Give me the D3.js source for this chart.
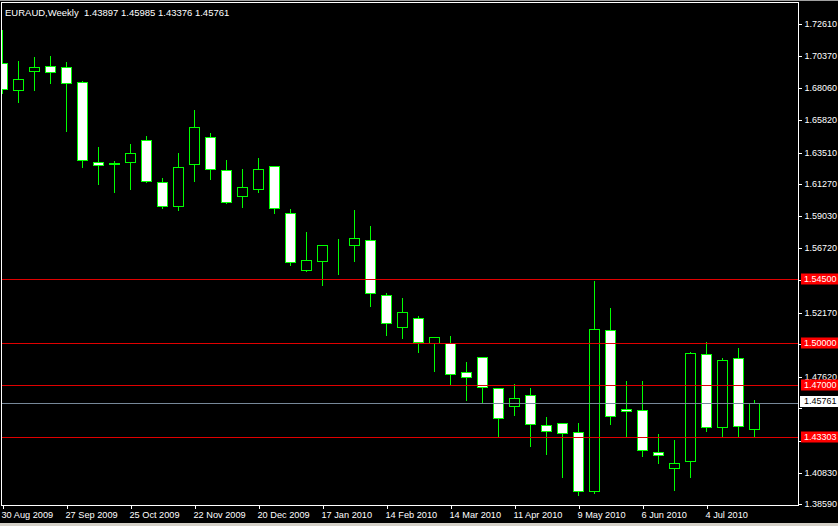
<!DOCTYPE html>
<html><head><meta charset="utf-8">
<script src="https://cdn.jsdelivr.net/npm/d3@7"></script>
<style>
html,body{margin:0;padding:0;background:#000;}
svg{display:block;}
text{font-family:"Liberation Sans",Arial,sans-serif;}
</style></head>
<body>
<svg id="chart" width="838" height="526"></svg>
<script>
// ---- data (weekly EURAUD candles, 30 Aug 2009 .. 25 Jul 2010) ----
const open  = [1.6981,1.6789,1.6924,1.6960,1.6952,1.6846,1.6279,1.6268,1.6279,1.6435,1.6137,1.5967,1.6269,1.6456,1.6222,1.6042,1.6092,1.6251,1.5918,1.5518,1.5578,1.5676,1.5691,1.5726,1.5337,1.5114,1.5174,1.4996,1.4996,1.4791,1.4897,1.4678,1.4550,1.4628,1.4415,1.4430,1.4366,1.3948,1.5089,1.4529,1.4522,1.4224,1.4111,1.4160,1.4918,1.4401,1.4890,1.43897];
const high  = [1.7222,1.7004,1.7033,1.7040,1.6997,1.6860,1.6395,1.6295,1.6416,1.6473,1.6175,1.6352,1.6657,1.6494,1.6303,1.6239,1.6317,1.6260,1.5955,1.5792,1.5700,1.5741,1.5948,1.5835,1.5358,1.5325,1.5195,1.5039,1.5055,1.4871,1.4906,1.4685,1.4715,1.4687,1.4481,1.4439,1.4439,1.5445,1.5254,1.4736,1.4736,1.4361,1.4318,1.4942,1.5013,1.4897,1.4970,1.45985];
const low   = [1.6772,1.6709,1.6794,1.6843,1.6503,1.6248,1.6128,1.6071,1.6092,1.6142,1.5957,1.5943,1.6149,1.6163,1.5993,1.5965,1.6069,1.5922,1.5551,1.5510,1.5412,1.5490,1.5582,1.5263,1.5057,1.5036,1.4937,1.4802,1.4710,1.4595,1.4575,1.4342,1.4490,1.4269,1.4214,1.4051,1.3923,1.3938,1.4427,1.4342,1.4200,1.4150,1.3959,1.4051,1.4377,1.4335,1.4335,1.43376];
const close = [1.6797,1.6867,1.6952,1.6917,1.6839,1.6293,1.6258,1.6272,1.6343,1.6145,1.5967,1.6244,1.6527,1.6234,1.6000,1.6102,1.6230,1.5952,1.5570,1.5585,1.5691,1.5677,1.5741,1.5351,1.5138,1.5216,1.5004,1.5039,1.4777,1.4755,1.4685,1.4465,1.4607,1.4422,1.4377,1.4359,1.3948,1.5096,1.4479,1.4515,1.4238,1.4203,1.4146,1.4926,1.4401,1.4878,1.4408,1.45761];
const dateTicks = [0,4,8,12,16,20,24,28,32,36,40,44];
const dateLabels = ["30 Aug 2009","27 Sep 2009","25 Oct 2009","22 Nov 2009","20 Dec 2009","17 Jan 2010","14 Feb 2010","14 Mar 2010","11 Apr 2010","9 May 2010","6 Jun 2010","4 Jul 2010"];
const priceTicks = [1.72610,1.70370,1.68060,1.65820,1.63510,1.61270,1.59030,1.56720,1.54480,1.52170,1.49930,1.47620,1.45380,1.43070,1.40830,1.38590];
// tick labels that sit under a level label (drawn as tick mark only)
const coveredTicks = [1.54480,1.49930,1.45380,1.43070];
const redLevels = [1.54500,1.50000,1.47000,1.43303];
const bidLevel = 1.45761;
const title = "EURAUD,Weekly  1.43897 1.45985 1.43376 1.45761";

// ---- layout ----
const svg = d3.select("#chart");
const W = 838, H = 526;
const plotL = 1.5, plotR = 798.5, plotT = 2.5, plotB = 505.5;
const x = d3.scaleLinear().domain([0, 47]).range([2.5, 754.5]);
const y = d3.scaleLinear().domain([1.38363, 1.74294]).range([507, 0]);
const half = 5;
const GREEN = "#00ff00";
const FS = "9px";
const fmt = d3.format(".5f");

svg.append("rect").attr("width", W).attr("height", H).attr("fill", "#000");
svg.append("rect").attr("x",0).attr("y",0).attr("width",W).attr("height",1).attr("fill","#a0a0a0");
svg.append("rect").attr("x",0).attr("y",523).attr("width",W).attr("height",3).attr("fill","#d4d0c8");

const plot = svg.append("g");
svg.append("clipPath").attr("id","pc").append("rect")
  .attr("x", plotL).attr("y", plotT).attr("width", plotR - plotL).attr("height", plotB - plotT);
plot.attr("clip-path","url(#pc)").attr("shape-rendering","crispEdges");

const idx = d3.range(open.length);
const snap = v => Math.round(v) + 0.5;

// wicks
plot.selectAll("line.wick").data(idx).join("line")
  .attr("class","wick")
  .attr("x1", i => x(i)).attr("x2", i => x(i))
  .attr("y1", i => snap(y(high[i]))).attr("y2", i => snap(y(low[i])))
  .attr("stroke", GREEN).attr("stroke-width", 1);

// bodies
plot.selectAll("rect.body").data(idx).join("rect")
  .attr("class","body")
  .attr("x", i => x(i) - half)
  .attr("width", half * 2)
  .attr("y", i => snap(y(Math.max(open[i], close[i]))))
  .attr("height", i => Math.max(0, snap(y(Math.min(open[i], close[i]))) - snap(y(Math.max(open[i], close[i])))))
  .attr("fill", i => close[i] < open[i] ? "#ffffff" : "#000000")
  .attr("stroke", GREEN).attr("stroke-width", 1);

// horizontal levels
plot.selectAll("line.lvl").data(redLevels).join("line")
  .attr("class","lvl")
  .attr("x1", plotL).attr("x2", plotR)
  .attr("y1", d => snap(y(d))).attr("y2", d => snap(y(d)))
  .attr("stroke", "#e00000").attr("stroke-width", 1);
plot.append("line")
  .attr("x1", plotL).attr("x2", plotR)
  .attr("y1", snap(y(bidLevel))).attr("y2", snap(y(bidLevel)))
  .attr("stroke", "#778899").attr("stroke-width", 1);

// frame
svg.append("path")
  .attr("d", `M${plotL},${plotB}V${plotT}H${plotR}V${plotB}Z`)
  .attr("fill","none").attr("stroke","#fff").attr("stroke-width",1)
  .attr("shape-rendering","crispEdges");

// right price axis
const yAxis = d3.axisRight(y).tickValues(priceTicks)
  .tickFormat(d => coveredTicks.includes(d) ? "" : fmt(d)).tickSize(3).tickPadding(3);
const gy = svg.append("g").attr("transform", `translate(${plotR},0)`)
  .attr("shape-rendering","crispEdges").call(yAxis);
gy.select(".domain").remove();
gy.selectAll(".tick line").attr("stroke","#fff").attr("transform","translate(0,0.5)");
gy.selectAll(".tick text").attr("fill","#fff").attr("font-size",FS)
  .attr("font-family",'"Liberation Sans",Arial,sans-serif');
gy.selectAll(".tick text").filter(function(){ return this.textContent === ""; }).remove();

// level labels on the axis
const lab = svg.append("g");
redLevels.forEach(v => {
  const yy = y(v);
  lab.append("rect").attr("x", 801).attr("y", Math.round(yy) - 5.5).attr("width", 37).attr("height", 11).attr("fill", "#ff0000");
  lab.append("text").attr("x", 804).attr("y", yy).attr("dy", "0.35em")
    .attr("fill","#fff").attr("font-size",FS).text(fmt(v));
});
lab.append("rect").attr("x", 800).attr("y", Math.round(y(bidLevel)) - 7).attr("width", 38).attr("height", 11).attr("fill", "#ffffff");
lab.append("text").attr("x", 804).attr("y", y(bidLevel) - 1.5).attr("dy", "0.35em")
  .attr("fill","#000").attr("font-size",FS).text(fmt(bidLevel));

// bottom date axis
const xAxis = d3.axisBottom(x).tickValues(dateTicks)
  .tickFormat((d, k) => dateLabels[k]).tickSize(3).tickPadding(3);
const gx = svg.append("g").attr("transform", `translate(0,${plotB})`)
  .attr("shape-rendering","crispEdges").call(xAxis);
gx.select(".domain").remove();
gx.selectAll(".tick line").attr("stroke","#fff");
gx.selectAll(".tick text").attr("fill","#fff").attr("font-size","9.2px")
  .attr("text-anchor","start").attr("dx", -1.5)
  .attr("font-family",'"Liberation Sans",Arial,sans-serif');

// title
svg.append("text").attr("x", 5).attr("y", 16).attr("fill","#fff")
  .attr("font-size","9.5px").style("white-space","pre").text(title);
</script>
</body></html>
